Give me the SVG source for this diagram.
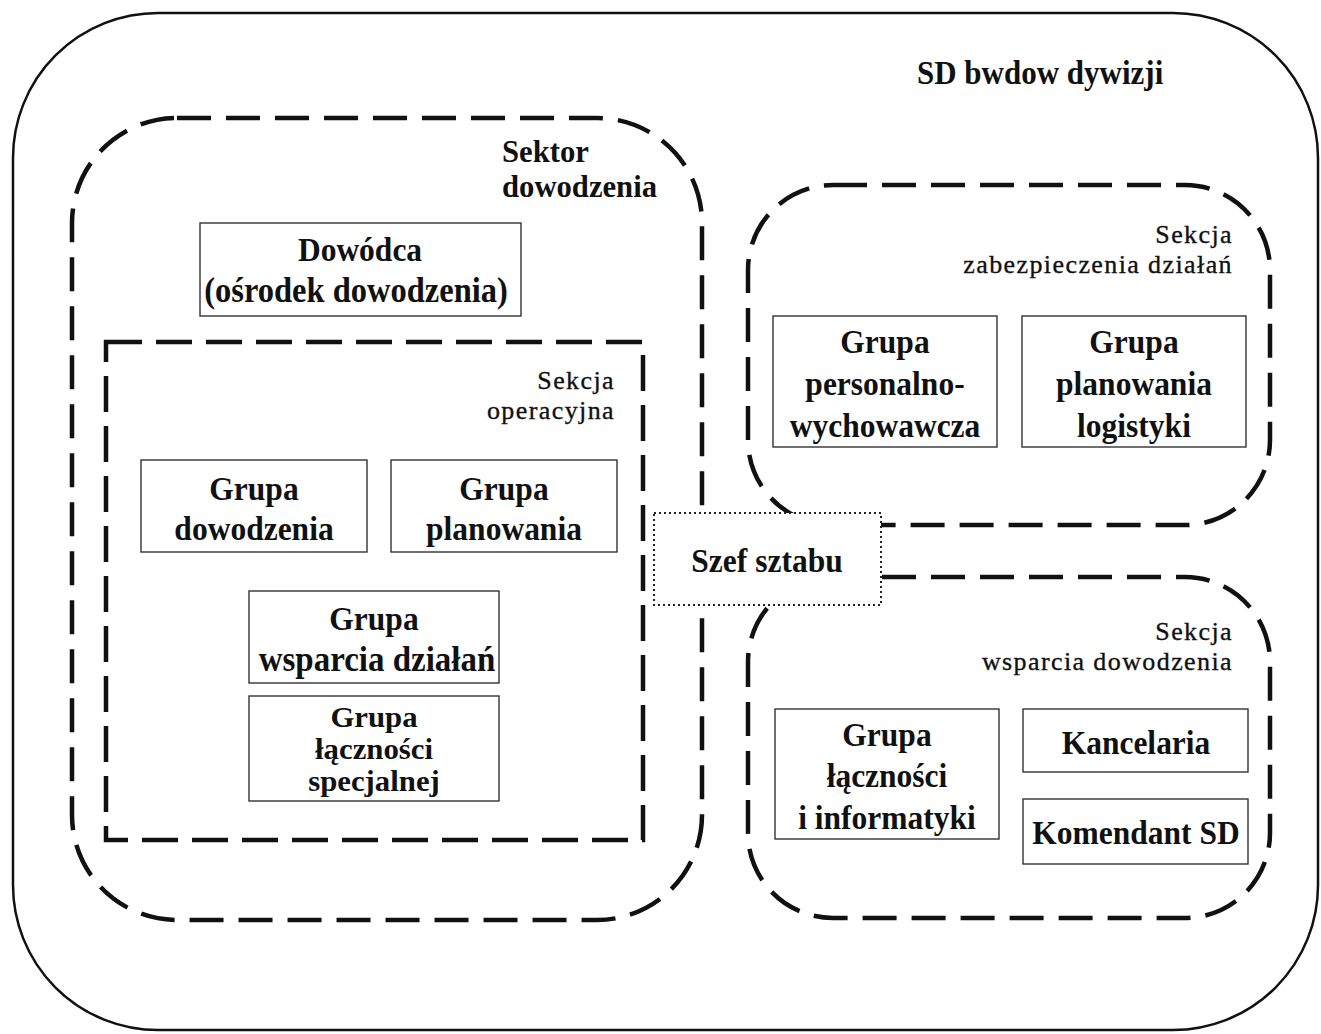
<svg xmlns="http://www.w3.org/2000/svg" width="1321" height="1034" viewBox="0 0 1321 1034" font-family="Liberation Serif, Times New Roman, serif">
<style>
text{fill:#111}
.b{font-weight:bold;font-size:31.5px;text-anchor:middle}
.t{font-weight:bold;font-size:31.5px}
.lbl{font-size:26px;text-anchor:end;letter-spacing:1.4px;stroke:#111;stroke-width:0.35}
.box{fill:#fff;stroke:#333;stroke-width:1.4}
.dash{fill:none;stroke:#111;stroke-width:4.5;stroke-dasharray:34 15}
</style>
<rect width="1321" height="1034" fill="#fff"/>
<g id="outer">
<rect x="13" y="13" width="1305" height="1017" rx="145" fill="none" stroke="#111" stroke-width="2.5"/>
<text class="t" transform="translate(917 84) scale(1 1.1)" style="font-size:31px">SD bwdow dywizji</text>
</g>
<g id="sektor-dowodzenia">
<rect class="dash" x="72" y="118" width="630" height="802" rx="105"/>
<text class="t" transform="translate(502 162) scale(1.04 1.04)" style="font-size:29.5px">Sektor</text>
<text class="t" transform="translate(502 197) scale(1.04 1.04)" style="font-size:29.5px">dowodzenia</text>
</g>
<g id="sekcja-operacyjna">
<rect class="dash" x="106" y="342" width="537" height="498" style="stroke-dasharray:36 14"/>
<text class="lbl" x="615" y="389">Sekcja</text>
<text class="lbl" x="615" y="419">operacyjna</text>
</g>
<g id="sekcja-zabezpieczenia">
<rect class="dash" x="748" y="185" width="522" height="340" rx="85"/>
<text class="lbl" x="1233" y="243">Sekcja</text>
<text class="lbl" x="1233" y="273">zabezpieczenia działań</text>
</g>
<g id="sekcja-wsparcia">
<rect class="dash" x="748" y="577" width="522" height="341" rx="85"/>
<text class="lbl" x="1233" y="640">Sekcja</text>
<text class="lbl" x="1233" y="670">wsparcia dowodzenia</text>
</g>
<g id="connectors"></g>
<g id="dowodca">
<rect class="box" x="200" y="223" width="321" height="93"/>
<text class="b" transform="translate(360 261) scale(1 1.1)">Dowódca</text>
<text class="b" transform="translate(356 302) scale(1 1.1)" style="font-size:32.5px">(ośrodek dowodzenia)</text>
</g>
<g id="grupa-dowodzenia">
<rect class="box" x="141" y="460" width="226" height="92"/>
<text class="b" transform="translate(254 500) scale(1 1.1)">Grupa</text>
<text class="b" transform="translate(254 540) scale(1 1.1)">dowodzenia</text>
</g>
<g id="grupa-planowania">
<rect class="box" x="391" y="460" width="226" height="92"/>
<text class="b" transform="translate(504 500) scale(1 1.1)">Grupa</text>
<text class="b" transform="translate(504 540) scale(1 1.1)">planowania</text>
</g>
<g id="grupa-wsparcia-dzialan">
<rect class="box" x="249" y="591" width="250" height="92"/>
<text class="b" transform="translate(374 630) scale(1 1.1)">Grupa</text>
<text class="b" transform="translate(377 671) scale(1 1.1)" style="font-size:33px">wsparcia działań</text>
</g>
<g id="grupa-lacznosci-specjalnej">
<rect class="box" x="249" y="696" width="250" height="105"/>
<text class="b" transform="translate(374 727) scale(1.08 1)" style="font-size:28.5px">Grupa</text>
<text class="b" transform="translate(374 759) scale(1.08 1)" style="font-size:28.5px">łączności</text>
<text class="b" transform="translate(374 791) scale(1.08 1)" style="font-size:28.5px">specjalnej</text>
</g>
<g id="szef-sztabu">
<rect x="654" y="513" width="227" height="92" fill="#fff" stroke="#222" stroke-width="2" stroke-dasharray="2 3"/>
<text class="b" transform="translate(767 572) scale(1 1.1)">Szef sztabu</text>
</g>
<g id="grupa-personalno">
<rect class="box" x="773" y="316" width="224" height="131"/>
<text class="b" transform="translate(885 353) scale(1 1.1)">Grupa</text>
<text class="b" transform="translate(885 395) scale(1 1.1)">personalno-</text>
<text class="b" transform="translate(885 437) scale(1 1.1)">wychowawcza</text>
</g>
<g id="grupa-logistyki">
<rect class="box" x="1022" y="316" width="224" height="131"/>
<text class="b" transform="translate(1134 353) scale(1 1.1)">Grupa</text>
<text class="b" transform="translate(1134 395) scale(1 1.1)">planowania</text>
<text class="b" transform="translate(1134 437) scale(1 1.1)">logistyki</text>
</g>
<g id="grupa-informatyki">
<rect class="box" x="775" y="709" width="224" height="130"/>
<text class="b" transform="translate(887 746) scale(1 1.1)">Grupa</text>
<text class="b" transform="translate(887 787) scale(1 1.1)">łączności</text>
<text class="b" transform="translate(887 829) scale(1 1.1)">i informatyki</text>
</g>
<g id="kancelaria">
<rect class="box" x="1023" y="709" width="225" height="63"/>
<text class="b" transform="translate(1136 754) scale(1 1.1)">Kancelaria</text>
</g>
<g id="komendant">
<rect class="box" x="1023" y="799" width="225" height="65"/>
<text class="b" transform="translate(1136 844) scale(1 1.1)">Komendant SD</text>
</g>
</svg>
